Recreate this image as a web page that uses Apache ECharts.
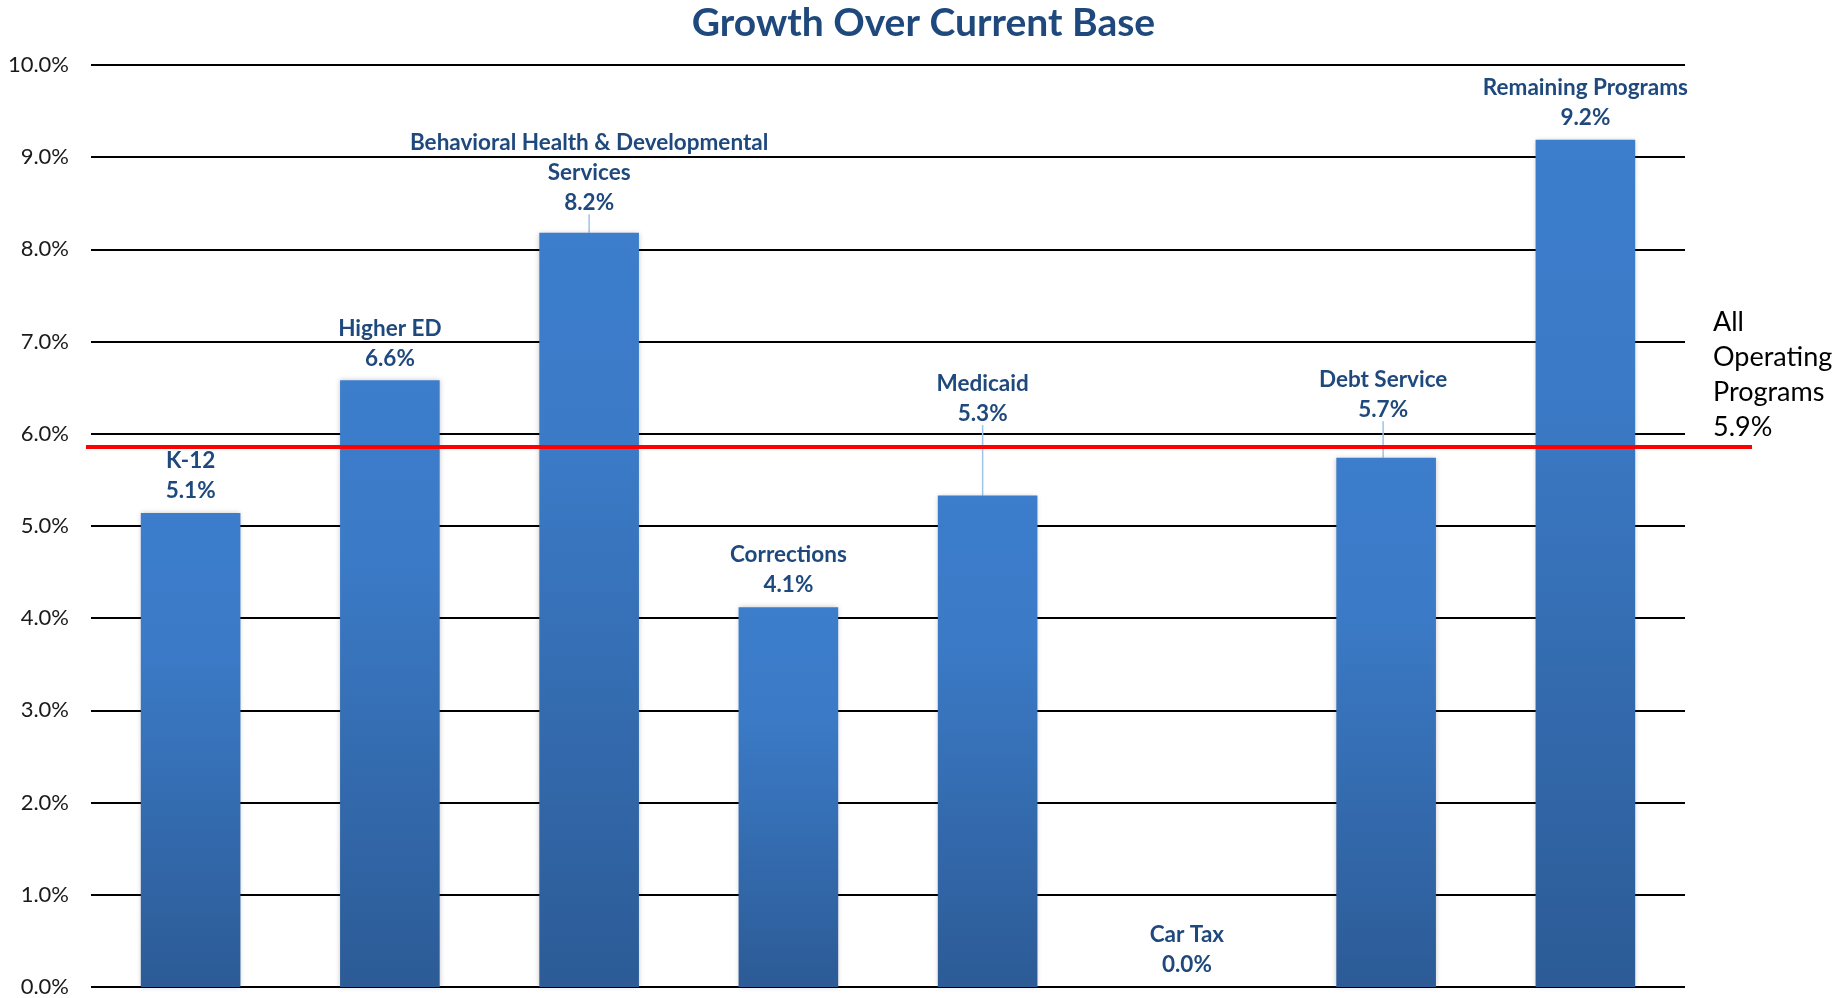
<!DOCTYPE html>
<html>
<head>
<meta charset="utf-8">
<script src="https://cdn.jsdelivr.net/npm/echarts@6/dist/echarts.min.js"></script>
<style>
html,body{margin:0;padding:0;background:#fff;}
#chart{width:1847px;height:998px;}
</style>
</head>
<body>
<div id="chart"></div>
<script>
const categories = ['K-12', 'Higher ED', 'Behavioral Health & Developmental\nServices', 'Corrections', 'Medicaid', 'Car Tax', 'Debt Service', 'Remaining Programs'];
const growthValues = [5.14, 6.58, 8.18, 4.12, 5.33, 0.0, 5.74, 9.19];
const overallValue = 5.86;
const overallName = 'All\nOperating\nPrograms';
const yTicks = [0, 1, 2, 3, 4, 5, 6, 7, 8, 9, 10];

// label lifts (layout only, in px) for labels that sit away from their bars
const labelLift = [0, 0, 8, 0, 60, 0, 26, 0];
const labelNudgeX = [0, 0, 0, 0, -5, 0, -3, 0];

const navy = '#1F497D';
const FONT = 'Lato';

const chart = echarts.init(document.getElementById('chart'), null, {renderer: 'canvas'});

const barData = growthValues.map((v, i) => ({
  value: v,
  labelLine: {show: labelLift[i] > 0}
}));

const option = {
  backgroundColor: '#ffffff',
  animation: false,
  title: [{
    text: 'Growth Over Current Base',
    left: 'center',
    top: -1,
    textStyle: {color: navy, fontFamily: FONT, fontWeight: 'bold', fontSize: 39}
  }, {
    text: overallName + '\n' + overallValue.toFixed(1) + '%',
    left: 1708,
    top: 300,
    textStyle: {color: '#000', fontFamily: FONT, fontWeight: 'normal', fontSize: 27, lineHeight: 35}
  }],
  grid: [
    {left: 91, right: 162, top: 65, bottom: 10, containLabel: false},
    {left: 86, right: 95, top: 65, bottom: 10, containLabel: false}
  ],
  xAxis: [
    {type: 'category', gridIndex: 0, data: categories, axisLine: {show: false}, axisTick: {show: false}, axisLabel: {show: false}, splitLine: {show: false}},
    {type: 'value', gridIndex: 1, min: 0, max: 1, show: false}
  ],
  yAxis: [
    {type: 'value', gridIndex: 0, min: yTicks[0], max: yTicks[yTicks.length - 1], interval: 1,
     axisLine: {show: false}, axisTick: {show: false},
     axisLabel: {formatter: v => v.toFixed(1) + '%', color: '#1a1a1a', fontFamily: FONT, fontSize: 22, margin: 22},
     splitLine: {show: true, lineStyle: {color: '#000', width: 2}}},
    {type: 'value', gridIndex: 1, min: yTicks[0], max: yTicks[yTicks.length - 1], show: false}
  ],
  series: [{
    type: 'bar',
    xAxisIndex: 0, yAxisIndex: 0,
    barWidth: '50%',
    data: barData,
    itemStyle: {
      color: new echarts.graphic.LinearGradient(0, 0, 0, 1, [
        {offset: 0, color: '#3C7DCC'},
        {offset: 0.3, color: '#3B7AC6'},
        {offset: 1, color: '#2C5B96'}
      ]),
      shadowColor: 'rgba(0,0,0,0.22)',
      shadowBlur: 5
    },
    label: {
      show: true,
      position: 'top',
      distance: 7,
      formatter: p => '{n|' + p.name.split('\n').join('}\n{n|') + '}\n{v|' + p.value.toFixed(1) + '%}',
      rich: {
        n: {color: navy, fontFamily: FONT, fontWeight: 'bold', fontSize: 22.5, lineHeight: 30, align: 'center'},
        v: {color: navy, fontFamily: FONT, fontWeight: 'bold', fontSize: 22.5, lineHeight: 30, align: 'center'}
      }
    },
    labelLine: {show: false, lineStyle: {color: '#9DC3E6', width: 1.5}},
    labelLayout: p => ({dy: -labelLift[p.dataIndex], dx: labelNudgeX[p.dataIndex]}),
    z: 2
  }, {
    type: 'line',
    xAxisIndex: 1, yAxisIndex: 1,
    data: [[0, overallValue], [1, overallValue]],
    symbol: 'none',
    lineStyle: {color: '#FF0000', width: 4},
    z: 5,
    silent: true
  }]
};
chart.setOption(option);
</script>
</body>
</html>
